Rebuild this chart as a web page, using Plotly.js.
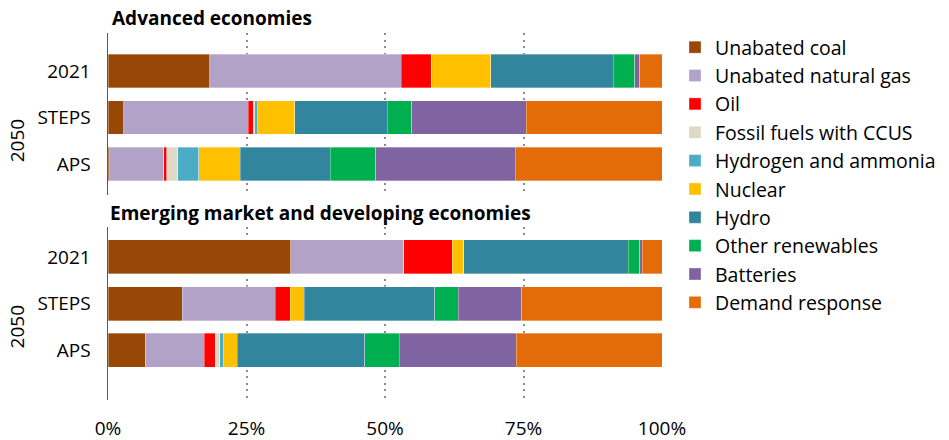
<!DOCTYPE html>
<html>
<head>
<meta charset="utf-8">
<script src="https://cdn.plot.ly/plotly-3.0.1.min.js"></script>
<style>html,body{margin:0;padding:0;background:#fff;}#chart{width:949px;height:440px;}</style>
</head>
<body>
<div id="chart"></div>
<script>
// Categories and labels
const categories = ['2021', 'STEPS', 'APS'];
const groupTitles = ['Advanced economies', 'Emerging market and developing economies'];
const seriesNames = ['Unabated coal', 'Unabated natural gas', 'Oil', 'Fossil fuels with CCUS',
  'Hydrogen and ammonia', 'Nuclear', 'Hydro', 'Other renewables', 'Batteries', 'Demand response'];
const seriesColors = ['#974706', '#B3A2C7', '#FF0000', '#DDD9C4', '#4BACC6',
  '#FFC000', '#31859C', '#00B050', '#8064A2', '#E36C09'];
const xTickVals = [0, 25, 50, 75, 100];
const xTickText = ['0%', '25%', '50%', '75%', '100%'];

// Advanced economies (shares, %) for [2021, STEPS, APS]
const advCoal    = [18.4, 2.8, 0.3];
const advGas     = [34.5, 22.5, 9.8];
const advOil     = [5.5, 0.9, 0.5];
const advCCUS    = [0, 0.3, 2.0];
const advH2      = [0, 0.5, 3.8];
const advNuclear = [10.7, 6.7, 7.5];
const advHydro   = [22.1, 16.7, 16.2];
const advOther   = [3.9, 4.4, 8.2];
const advBatt    = [0.9, 20.7, 25.2];
const advDR      = [4.0, 24.5, 26.5];

// Emerging market and developing economies (shares, %) for [2021, STEPS, APS]
const emeCoal    = [33.0, 13.4, 6.7];
const emeGas     = [20.4, 16.8, 10.7];
const emeOil     = [8.7, 2.7, 2.0];
const emeCCUS    = [0, 0, 0.8];
const emeH2      = [0, 0, 0.6];
const emeNuclear = [2.1, 2.5, 2.5];
const emeHydro   = [29.7, 23.6, 23.0];
const emeOther   = [2.1, 4.2, 6.3];
const emeBatt    = [0.4, 11.5, 21.1];
const emeDR      = [3.6, 25.3, 26.3];

const advSeries = [advCoal, advGas, advOil, advCCUS, advH2, advNuclear, advHydro, advOther, advBatt, advDR];
const emeSeries = [emeCoal, emeGas, emeOil, emeCCUS, emeH2, emeNuclear, emeHydro, emeOther, emeBatt, emeDR];

const FONT = '"Open Sans", "Noto Sans", sans-serif';
const traces = [];
seriesNames.forEach((name, i) => {
  const common = {
    type: 'bar', orientation: 'h', name: name, legendgroup: name,
    marker: {color: seriesColors[i], line: {color: 'rgba(255,255,255,0.55)', width: 0.6}},
    hoverinfo: 'x+y+name'
  };
  traces.push(Object.assign({}, common, {x: advSeries[i], y: categories, xaxis: 'x', yaxis: 'y', showlegend: true}));
  traces.push(Object.assign({}, common, {x: emeSeries[i], y: categories, xaxis: 'x2', yaxis: 'y2', showlegend: false}));
});

const xCommon = {
  range: [0, 100], tickvals: xTickVals, ticktext: xTickText,
  showgrid: true, gridcolor: '#8c8c8c', gridwidth: 2, griddash: '2px,4.5px',
  zeroline: false, showline: false, ticks: '', fixedrange: true
};
const yCommon = {
  type: 'category', showgrid: false, zeroline: false, showline: true,
  linecolor: '#595959', linewidth: 1.5, ticks: '', ticklabelstandoff: 12,
  tickfont: {family: FONT, size: 19, color: '#000'}
};

const layout = {
  width: 949, height: 440,
  margin: {l: 108, r: 287, t: 33, b: 40, autoexpand: false},
  paper_bgcolor: '#fff', plot_bgcolor: '#fff',
  barmode: 'stack', bargap: 0.27,
  font: {family: FONT, size: 19, color: '#000'},
  xaxis: Object.assign({}, xCommon, {anchor: 'y', showticklabels: false}),
  xaxis2: Object.assign({}, xCommon, {anchor: 'y2', showticklabels: true,
    tickfont: {family: FONT, size: 19, color: '#000'}, ticklabelstandoff: 15}),
  yaxis: Object.assign({}, yCommon, {domain: [0.5586, 1], range: [2.667, -0.817]}),
  yaxis2: Object.assign({}, yCommon, {domain: [0, 0.4714], range: [3.07, -0.643]}),
  legend: {
    x: 1.0235, xanchor: 'left', y: 1.0136, yanchor: 'top',
    font: {family: FONT, size: 19.5, color: '#000'},
    traceorder: 'normal', bgcolor: 'rgba(0,0,0,0)', itemclick: false,
    maxheight: 420
  },
  showlegend: true,
  annotations: [
    {text: '<b>' + groupTitles[0] + '</b>', xref: 'paper', yref: 'paper', x: 0.004, y: 1.0409,
      xanchor: 'left', yanchor: 'middle', showarrow: false, font: {family: FONT, size: 19, color: '#000'}},
    {text: '<b>' + groupTitles[1] + '</b>', xref: 'paper', yref: 'paper', x: 0.0, y: 0.5095,
      xanchor: 'left', yanchor: 'middle', showarrow: false, font: {family: FONT, size: 19, color: '#000'}},
    {text: '2050', xref: 'paper', yref: 'y', x: -0.165, y: 1.5, textangle: -90,
      xanchor: 'center', yanchor: 'middle', showarrow: false, font: {family: FONT, size: 19, color: '#000'}},
    {text: '2050', xref: 'paper', yref: 'y2', x: -0.165, y: 1.5, textangle: -90,
      xanchor: 'center', yanchor: 'middle', showarrow: false, font: {family: FONT, size: 19, color: '#000'}}
  ]
};

Plotly.newPlot('chart', traces, layout, {displayModeBar: false, staticPlot: true});
</script>
</body>
</html>
